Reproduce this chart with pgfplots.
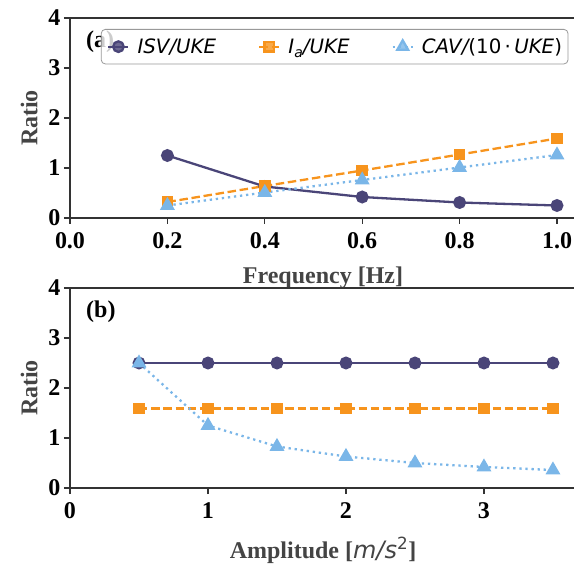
\documentclass[border=0pt]{standalone}
\usepackage{pgfplots}
\pgfplotsset{compat=1.18}
\usepackage{fontspec}
\setmainfont{Liberation Serif}
\newfontfamily\dvs{DejaVu Sans}

\definecolor{cisv}{HTML}{4A4578}
\definecolor{cia}{HTML}{F7941D}
\definecolor{ccav}{HTML}{7AB6E8}
\definecolor{spine}{HTML}{333333}
\definecolor{lbl}{HTML}{444444}

\pgfplotsset{
  panel/.style={
    scale only axis,
    width=506pt, height=200pt,
    ymin=0, ymax=4,
    ytick={0,1,2,3,4},
    axis line style={spine, line width=1.2pt},
    tick align=outside,
    tick pos=left,
    major tick length=6pt,
    every tick/.style={spine, line width=1.2pt},
    ticklabel style={font=\fontsize{24}{24}\selectfont\bfseries},
    xticklabel style={yshift=-5pt},
    /pgf/number format/assume math mode=true,
    label style={font=\fontsize{24}{24}\selectfont\bfseries, text=lbl},
    xlabel style={yshift=-11pt},
    ylabel style={yshift=4pt},
    ylabel={Ratio},
    clip=false,
  },
  isv/.style={cisv, line width=2.3pt, mark=*, mark size=5.3pt, mark options={solid}},
  ia/.style={cia, line width=2.3pt, dash pattern=on 8.5pt off 3.7pt, mark=square*, mark size=4.7pt, mark options={solid}},
  cav/.style={ccav, line width=2.3pt, dash pattern=on 2.3pt off 3.8pt, mark=triangle*, mark size=6.3pt, mark options={solid}},
}

\begin{document}
\begin{tikzpicture}
\useasboundingbox (0,0) rectangle (574pt,-564pt);

% (a) frequency
\begin{axis}[panel,
  at={(70pt,-18pt)}, anchor=north west,
  xmin=0, xmax=1.039,
  xtick={0,0.2,0.4,0.6,0.8,1.0},
  xticklabel style={/pgf/number format/.cd, fixed, fixed zerofill, precision=1},
  xlabel={Frequency [Hz]},
  legend columns=3,
  legend cell align=left,
  legend image code/.code={\draw[mark repeat=2, mark phase=2, #1] plot coordinates {(0pt,0pt) (10pt,0pt) (20pt,0pt)};},
  legend style={at={(rel axis cs:0.061,0.945)}, anchor=north west,
    draw=gray!80, line width=0.8pt, rounded corners=4pt,
    fill=white, fill opacity=0.8, text opacity=1,
    inner xsep=6pt, inner ysep=9pt,
    nodes={inner sep=0pt},
    font=\fontsize{19.8}{19.8}\selectfont\dvs,
    /tikz/every odd column/.append style={column sep=8pt},
    /tikz/every even column/.append style={column sep=42pt}},
]
\node[anchor=north west, font=\fontsize{24}{24}\selectfont\bfseries, inner sep=0pt]
  at ([xshift=16pt, yshift=-13pt]rel axis cs:0,1) {(a)};
\addplot[isv] coordinates {(0.2,1.25) (0.4,0.63) (0.6,0.42) (0.8,0.31) (1.0,0.25)};
\addlegendentry{\itshape ISV/UKE}
\addplot[ia] coordinates {(0.2,0.32) (0.4,0.64) (0.6,0.95) (0.8,1.27) (1.0,1.59)};
\addlegendentry{{\itshape I}\raisebox{-4pt}{\fontsize{14}{14}\selectfont\itshape a}{\itshape /UKE}}
\addplot[cav] coordinates {(0.2,0.25) (0.4,0.51) (0.6,0.76) (0.8,1.01) (1.0,1.26)};
\addlegendentry{{\itshape CAV/}(10\,·\,{\itshape UKE})}
\end{axis}

% (b) amplitude
\begin{axis}[panel,
  at={(70pt,-288pt)}, anchor=north west,
  xmin=0, xmax=3.667,
  xtick={0,1,2,3},
  xlabel={Amplitude [{\dvs\mdseries\itshape m/s\textsuperscript{\upshape 2}}]},
]
\node[anchor=north west, font=\fontsize{24}{24}\selectfont\bfseries, inner sep=0pt]
  at ([xshift=16pt, yshift=-13pt]rel axis cs:0,1) {(b)};
\addplot[isv] coordinates {(0.5,2.5) (1.0,2.5) (1.5,2.5) (2.0,2.5) (2.5,2.5) (3.0,2.5) (3.5,2.5)};
\addplot[ia] coordinates {(0.5,1.59) (1.0,1.59) (1.5,1.59) (2.0,1.59) (2.5,1.59) (3.0,1.59) (3.5,1.59)};
\addplot[cav] coordinates {(0.5,2.5) (1.0,1.25) (1.5,0.83) (2.0,0.63) (2.5,0.5) (3.0,0.42) (3.5,0.36)};
\end{axis}
\end{tikzpicture}
\end{document}
